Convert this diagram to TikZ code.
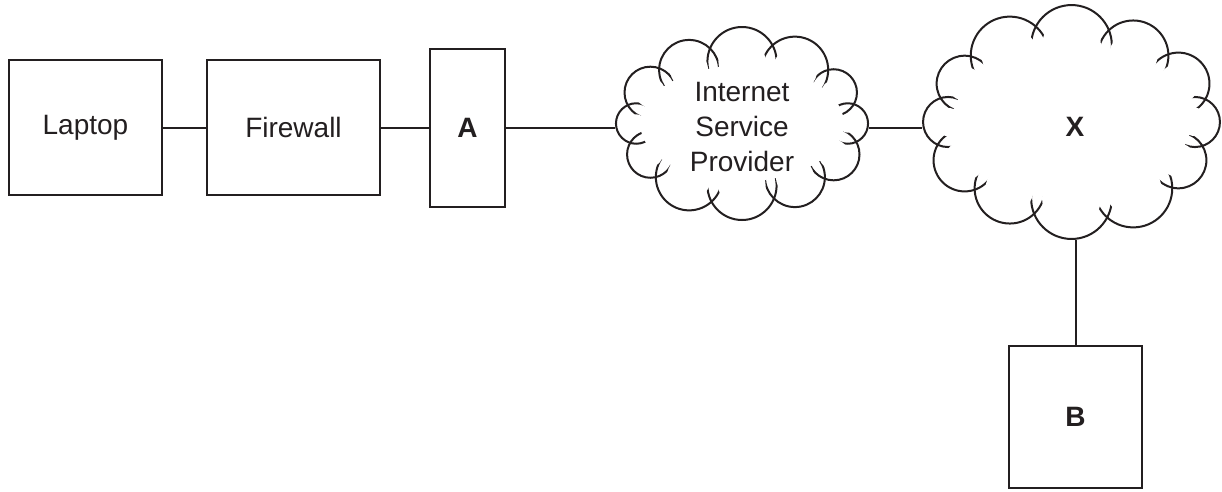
\documentclass[tikz,border=0pt]{standalone}
\usepackage{fontspec}
\setmainfont{Liberation Sans}
\definecolor{ink}{RGB}{35,31,32}
% #1 cx, #2 cy, #3 a, #4 b, #5 jitter sign
\newcommand\puffcloud[5]{%
  \foreach \pcI in {0,...,11}{%
    \pgfmathsetmacro\pcT{30*\pcI}%
    \pgfmathsetmacro\pcR{0.327*veclen(#3*sin(\pcT),#4*cos(\pcT))*(1+#5*0.06*sin(4*\pcT))}%
    \draw[draw=ink,line width=2pt] ({#1+#3*cos(\pcT)},{#2+#4*sin(\pcT)}) circle[radius=\pcR pt];
  }%
  \foreach \pcI in {0,...,11}{%
    \pgfmathsetmacro\pcT{30*\pcI}%
    \pgfmathsetmacro\pcR{0.327*veclen(#3*sin(\pcT),#4*cos(\pcT))*(1+#5*0.06*sin(4*\pcT))-11}%
    \fill[white] ({#1+#3*cos(\pcT)},{#2+#4*sin(\pcT)}) circle[radius=\pcR pt];
  }%
  \pgfmathsetmacro\pcEa{#3-4}%
  \pgfmathsetmacro\pcEb{#4-4}%
  \fill[white] (#1,#2) ellipse[x radius=\pcEa pt,y radius=\pcEb pt];
}
\begin{document}
\begin{tikzpicture}[x=1pt,y=-1pt,line width=2pt,
  every node/.style={font=\fontsize{28}{35}\selectfont,text=ink},
  box/.style={draw=ink,line width=2pt,rectangle,inner sep=0pt},
  cloudlabel/.style={rectangle,inner sep=0pt,align=center},
  link/.style={draw=ink,line width=2pt}]
\useasboundingbox[fill=white] (0,0) rectangle (1222,491);
\puffcloud{742}{123.5}{105.8}{61.9}{1}
\puffcloud{1071.5}{122}{123.4}{76.6}{-1}
\node[box,minimum width=153pt,minimum height=135pt] (laptop) at (85.5,127.5) {Laptop};
\node[box,minimum width=173pt,minimum height=135pt] (firewall) at (293.5,127.5) {Firewall};
\node[box,minimum width=75pt,minimum height=158pt] (A) at (467.5,128) {\bfseries A};
\node[cloudlabel,minimum width=252pt,minimum height=193pt] (isp) at (742,123.5) {};
\node[anchor=center,align=center] (ispt) at (742,127) {Internet\\Service\\Provider};
\node[cloudlabel,minimum width=297pt,minimum height=234pt] (X) at (1071.5,122) {};
\node (xt) at (1075,127) {\bfseries X};
\node[box,minimum width=133pt,minimum height=142pt] (B) at (1075.5,417) {\bfseries B};
\draw[link] (laptop.east) -- (firewall.west);
\draw[link] (firewall.east |- laptop.east) -- (A.west |- laptop.east);
\draw[link] (A.east |- laptop.east) -- (A.east |- laptop.east -| isp.west);
\draw[link] (isp.east |- laptop.east) -- (X.west |- laptop.east);
\draw[link] (B.north) -- (B.north |- X.south);
\end{tikzpicture}
\end{document}
